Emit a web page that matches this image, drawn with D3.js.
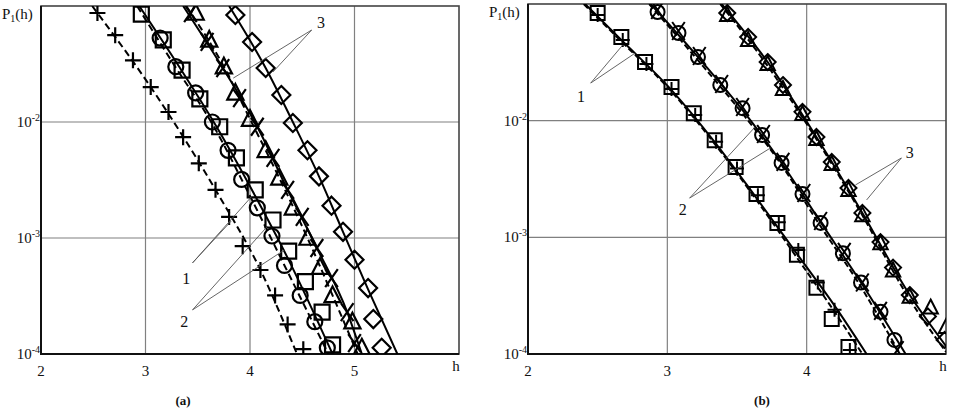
<!DOCTYPE html>
<html>
<head>
<meta charset="utf-8">
<script src="https://cdn.jsdelivr.net/npm/d3@7"></script>
<style>
body { margin: 0; background: #fff; }
svg text { font-family: "Liberation Serif", "DejaVu Serif", serif; fill: #111; }
</style>
</head>
<body>
<div id="chart"></div>
<script>
// ---- panel (a) : [h, P1(h)] ----
var plusA = [[2.54,0.087],[2.71,0.056],[2.88,0.034],[3.05,0.020],[3.22,0.0122],[3.36,0.0074],[3.51,0.0044],[3.67,0.0026],[3.80,0.00152],[3.93,0.00085],[4.10,0.00053],[4.24,0.00032],[4.36,0.00018],[4.51,0.00011]];
var squareA = [[2.96,0.085],[3.17,0.051],[3.35,0.028],[3.52,0.0158],[3.71,0.0091],[3.87,0.0049],[4.05,0.0026],[4.22,0.00143],[4.37,0.00077],[4.53,0.00042],[4.69,0.00023],[4.79,0.00012]];
var circleA = [[3.14,0.053],[3.29,0.030],[3.48,0.0178],[3.64,0.0100],[3.79,0.0057],[3.92,0.0032],[4.07,0.00182],[4.21,0.00104],[4.33,0.00058],[4.48,0.00032],[4.62,0.00019],[4.74,0.000113]];
var crossA = [[3.43,0.087],[3.59,0.049],[3.74,0.0292],[3.90,0.0161],[4.07,0.0091],[4.22,0.0049],[4.36,0.0026],[4.50,0.00152],[4.64,0.00082],[4.78,0.00045],[4.93,0.00023],[5.00,0.000124]];
var triA = [[3.48,0.087],[3.61,0.051],[3.75,0.030],[3.86,0.0178],[4.00,0.0106],[4.15,0.0057],[4.28,0.0033],[4.41,0.00182],[4.55,0.00100],[4.67,0.00056],[4.79,0.00032],[4.98,0.00019],[5.07,0.000113]];
var diamondA = [[3.86,0.0836],[4.02,0.049],[4.15,0.0292],[4.30,0.0171],[4.41,0.0098],[4.55,0.0057],[4.66,0.0034],[4.78,0.0019],[4.89,0.00113],[5.00,0.00065],[5.13,0.00037],[5.18,0.00020],[5.26,0.000113]];

var curveA1 = [[2.49,0.1],[3.05,0.020],[3.67,0.0026],[4.10,0.00053],[4.45,0.0001]];
var curveA2 = [[2.94,0.1],[3.33,0.0292],[3.68,0.0091],[4.05,0.0023],[4.38,0.00062],[4.79,0.0001]];
var curveA3 = [[2.92,0.1],[3.28,0.0304],[3.64,0.0096],[4.00,0.0023],[4.33,0.00058],[4.75,0.0001]];
var curveA4 = [[3.36,0.1],[3.74,0.0292],[4.07,0.0091],[4.36,0.0026],[4.64,0.00082],[4.93,0.00023],[5.07,0.0001]];
var curveA5 = [[3.39,0.1],[3.75,0.030],[4.00,0.0106],[4.28,0.0033],[4.55,0.001],[4.79,0.00032],[5.03,0.0001]];
var curveA6 = [[3.80,0.1],[4.15,0.0292],[4.41,0.01],[4.66,0.0034],[4.89,0.00113],[5.13,0.00036],[5.41,0.0001]];

// ---- panel (b) ----
var squareB = [[2.50,0.0837],[2.67,0.0522],[2.84,0.0318],[3.03,0.0194],[3.19,0.0116],[3.34,0.0068],[3.49,0.0040],[3.64,0.00235],[3.79,0.00133],[3.93,0.00071],[4.07,0.00037],[4.18,0.00020],[4.30,0.000115]];
var plusB = [[2.50,0.0805],[2.68,0.0491],[2.85,0.0306],[3.03,0.0187],[3.20,0.0112],[3.35,0.0066],[3.50,0.0039],[3.65,0.0023],[3.80,0.00135],[3.94,0.00078],[4.08,0.00041],[4.20,0.00024],[4.31,0.000108]];
var circleB = [[2.93,0.0854],[3.08,0.0564],[3.22,0.0351],[3.38,0.0202],[3.54,0.0128],[3.68,0.00754],[3.82,0.00434],[3.97,0.00235],[4.10,0.00133],[4.26,0.00073],[4.39,0.00041],[4.53,0.00023],[4.63,0.000132]];
var crossB = [[2.93,0.0889],[3.08,0.0587],[3.23,0.0358],[3.39,0.0206],[3.54,0.0131],[3.69,0.00769],[3.83,0.00443],[3.98,0.0024],[4.10,0.00138],[4.27,0.00075],[4.40,0.00041],[4.53,0.000234],[4.65,0.000108]];
var diamondB = [[3.43,0.0837],[3.58,0.0522],[3.72,0.0318],[3.83,0.0202],[3.97,0.0119],[4.07,0.00724],[4.18,0.00443],[4.30,0.00265],[4.40,0.00162],[4.53,0.00091],[4.62,0.00055],[4.74,0.00032],[4.87,0.00021],[4.99,0.000132]];
var triB = [[3.43,0.0805],[3.58,0.0491],[3.72,0.0306],[3.83,0.0187],[3.97,0.0114],[4.07,0.00697],[4.18,0.00425],[4.30,0.00255],[4.40,0.00155],[4.53,0.00089],[4.62,0.00052],[4.74,0.00031],[4.89,0.00025],[5.00,0.00017]];

var curveB1 = [[2.41,0.1],[2.67,0.0491],[3.03,0.0183],[3.34,0.00656],[3.64,0.00217],[3.95,0.00067],[4.20,0.00026],[4.43,0.0001]];
var curveB1d = [[2.40,0.1],[2.66,0.0491],[3.02,0.0183],[3.33,0.00656],[3.63,0.00217],[3.93,0.00067],[4.17,0.00026],[4.40,0.0001]];
var curveB2 = [[2.88,0.1],[3.22,0.0351],[3.54,0.0123],[3.82,0.00434],[4.10,0.00135],[4.39,0.00041],[4.71,0.0001]];
var curveB2d = [[2.87,0.1],[3.20,0.0351],[3.52,0.0123],[3.81,0.00434],[4.08,0.00135],[4.37,0.00041],[4.67,0.0001]];
var curveB3 = [[3.39,0.1],[3.72,0.0318],[4.07,0.00724],[4.40,0.00162],[4.74,0.00032],[5.0,0.000117]];
var curveB3d = [[3.38,0.1],[3.70,0.0318],[4.06,0.00724],[4.39,0.00162],[4.72,0.00032],[5.0,0.000104]];

// tick values
var yTicks = [1e-2, 1e-3, 1e-4];
var yTickLabels = ['-2', '-3', '-4'];
var xTicksA = [2, 3, 4, 5];
var xTicksB = [2, 3, 4];

// curve labels: text position, leader start, leader ends
var notesA = [
	{label: '1', at: [3.39,0.00045], from: [3.45,0.00061], to: [[3.82,0.0014],[4.02,0.0023]]},
	{label: '2', at: [3.37,0.00019], from: [3.45,0.00024], to: [[4.17,0.00127],[4.33,0.00079]]},
	{label: '3', at: [4.68,0.0728], from: [4.59,0.0621], to: [[3.84,0.0239],[4.22,0.0270]]}
];
var notesB = [
	{label: '1', at: [2.38,0.0163], from: [2.45,0.0210], to: [[2.68,0.0445],[2.77,0.0380]]},
	{label: '2', at: [3.11,0.00175], from: [3.16,0.00217], to: [[3.63,0.00883],[3.74,0.00583]]},
	{label: '3', at: [4.74,0.00539], from: [4.68,0.00479], to: [[4.35,0.00281],[4.43,0.00209]]}
];

var svg = d3.select('#chart').append('svg')
	.attr('width', 954)
	.attr('height', 410)
	.attr('font-family', '"Liberation Serif", "DejaVu Serif", serif');

// marker shapes, centred on 0,0
var shapes = {
	square: function(s) { return 'M'+(-s)+','+(-s)+'h'+(2*s)+'v'+(2*s)+'h'+(-2*s)+'Z'; },
	circle: function(s) { return 'M'+(-s)+',0a'+s+','+s+' 0 1,0 '+(2*s)+',0a'+s+','+s+' 0 1,0 '+(-2*s)+',0'; },
	diamond: function(s) { return 'M0,'+(-s)+'L'+s+',0L0,'+s+'L'+(-s)+',0Z'; },
	triangle: function(s) { return 'M0,'+(-s)+'L'+(0.9*s)+','+(0.75*s)+'L'+(-0.9*s)+','+(0.75*s)+'Z'; },
	plus: function(s) { return 'M'+(-s)+',0H'+s+'M0,'+(-s)+'V'+s; },
	cross: function(s) { return 'M'+(-0.7*s)+','+(-s)+'L'+(0.7*s)+','+s+'M'+(0.7*s)+','+(-s)+'L'+(-0.7*s)+','+s; }
};

var panels = [
	{id: 'a', left: 41, right: 459, top: 6, bottom: 354, xDomain: [2, 6], xTicks: xTicksA, caption: '(a)', capX: 183,
		curves: [
			{data: curveA1, dash: '7,4'}, {data: curveA2}, {data: curveA3, dash: '7,4'},
			{data: curveA4}, {data: curveA5, dash: '7,4'}, {data: curveA6}
		],
		markers: [
			{data: plusA, shape: 'plus', size: 8},
			{data: squareA, shape: 'square', size: 7.5},
			{data: circleA, shape: 'circle', size: 7.5},
			{data: triA, shape: 'triangle', size: 9},
			{data: crossA, shape: 'cross', size: 9},
			{data: diamondA, shape: 'diamond', size: 9}
		],
		notes: notesA, sw: 2.2},
	{id: 'b', left: 528, right: 946, top: 4, bottom: 354, xDomain: [2, 5], xTicks: xTicksB, caption: '(b)', capX: 762,
		curves: [
			{data: curveB1}, {data: curveB1d, dash: '6,3'},
			{data: curveB2}, {data: curveB2d, dash: '6,3'},
			{data: curveB3}, {data: curveB3d, dash: '6,3'}
		],
		markers: [
			{data: squareB, shape: 'square', size: 7},
			{data: plusB, shape: 'plus', size: 7},
			{data: circleB, shape: 'circle', size: 7},
			{data: crossB, shape: 'cross', size: 9},
			{data: diamondB, shape: 'diamond', size: 8},
			{data: triB, shape: 'triangle', size: 8}
		],
		notes: notesB, sw: 2}
];

panels.forEach(function(p) {
	var x = d3.scaleLinear().domain(p.xDomain).range([p.left, p.right]);
	var y = d3.scaleLog().domain([1e-4, 1e-1]).range([p.bottom, p.top]);
	var g = svg.append('g').attr('class', 'panel-' + p.id);

	g.append('clipPath').attr('id', 'clip-' + p.id)
		.append('rect')
		.attr('x', p.left).attr('y', p.top)
		.attr('width', p.right - p.left).attr('height', p.bottom - p.top);

	// grid
	g.selectAll('.vgrid').data(p.xTicks.slice(1)).enter().append('line')
		.attr('x1', function(d) { return x(d); }).attr('x2', function(d) { return x(d); })
		.attr('y1', p.top).attr('y2', p.bottom)
		.attr('stroke', '#808080').attr('stroke-width', 1.2);
	g.selectAll('.hgrid').data(yTicks.slice(0, 2)).enter().append('line')
		.attr('y1', function(d) { return y(d); }).attr('y2', function(d) { return y(d); })
		.attr('x1', p.left).attr('x2', p.right)
		.attr('stroke', '#808080').attr('stroke-width', 1.2);

	// frame
	g.append('rect')
		.attr('x', p.left).attr('y', p.top)
		.attr('width', p.right - p.left).attr('height', p.bottom - p.top)
		.attr('fill', 'none').attr('stroke', '#444').attr('stroke-width', 1.6);
	g.append('path')
		.attr('d', 'M' + p.left + ',' + p.top + 'V' + p.bottom + 'H' + p.right)
		.attr('fill', 'none').attr('stroke', '#111').attr('stroke-width', 2);

	var plot = g.append('g').attr('clip-path', 'url(#clip-' + p.id + ')');

	// leader lines of the curve labels
	p.notes.forEach(function(n) {
		n.to.forEach(function(t) {
			g.append('line')
				.attr('x1', x(n.from[0])).attr('y1', y(n.from[1]))
				.attr('x2', x(t[0])).attr('y2', y(t[1]))
				.attr('stroke', '#555').attr('stroke-width', 0.9);
		});
		g.append('text')
			.attr('x', x(n.at[0])).attr('y', y(n.at[1]))
			.attr('dy', '0.35em').attr('text-anchor', 'middle')
			.attr('font-size', 16)
			.text(n.label);
	});

	var line = d3.line()
		.x(function(d) { return x(d[0]); })
		.y(function(d) { return y(d[1]); })
		.curve(d3.curveMonotoneX);

	p.curves.forEach(function(c) {
		plot.append('path')
			.attr('d', line(c.data))
			.attr('fill', 'none').attr('stroke', '#000')
			.attr('stroke-width', 2)
			.attr('stroke-dasharray', c.dash || null);
	});

	p.markers.forEach(function(m) {
		plot.selectAll(null).data(m.data).enter().append('path')
			.attr('transform', function(d) { return 'translate(' + x(d[0]) + ',' + y(d[1]) + ')'; })
			.attr('d', shapes[m.shape](m.size))
			.attr('fill', 'none').attr('stroke', '#000')
			.attr('stroke-width', p.sw);
	});

	// x tick labels
	g.selectAll('.xt').data(p.xTicks).enter().append('text')
		.attr('x', function(d) { return x(d); })
		.attr('y', p.bottom + 22)
		.attr('text-anchor', 'middle').attr('font-size', 15)
		.text(function(d) { return d; });

	// y tick labels 10^n
	var yt = g.selectAll('.yt').data(yTicks).enter().append('text')
		.attr('x', p.left - 1)
		.attr('y', function(d) { return y(d) + 5; })
		.attr('text-anchor', 'end').attr('font-size', 15);
	yt.append('tspan').text('10');
	yt.append('tspan').attr('font-size', 10).attr('dy', -6)
		.text(function(d, i) { return yTickLabels[i]; });

	// axis names
	g.append('text')
		.attr('x', p.right - 3).attr('y', p.bottom + 17)
		.attr('text-anchor', 'middle').attr('font-size', 15)
		.text('h');
	var yl = g.append('text')
		.attr('x', p.left - 39).attr('y', p.top + 13)
		.attr('font-size', 15);
	yl.append('tspan').text('P');
	yl.append('tspan').attr('font-size', 10).attr('dy', 3).text('1');
	yl.append('tspan').attr('dy', -3).text('(h)');

	// caption
	g.append('text')
		.attr('x', p.capX).attr('y', 405)
		.attr('text-anchor', 'middle').attr('font-size', 13)
		.attr('font-weight', 'bold')
		.text(p.caption);
});
</script>
</body>
</html>
